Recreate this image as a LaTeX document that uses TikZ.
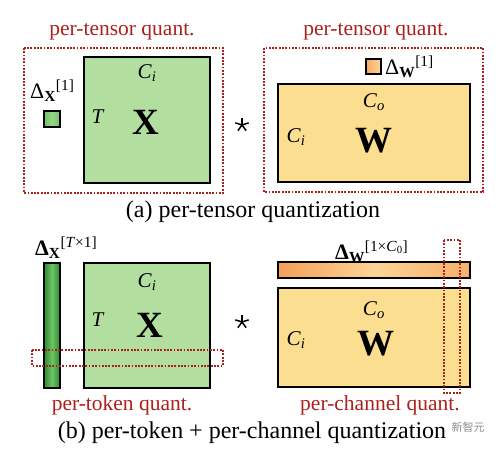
\documentclass[tikz,border=0pt]{standalone}
\usepackage{fontspec}
\setmainfont{Liberation Serif}
\newfontfamily\cjk{Noto Sans CJK SC}
\usetikzlibrary{calc}
\definecolor{xgreen}{RGB}{178,222,160}
\definecolor{dgreen}{RGB}{38,140,48}
\definecolor{lgreen}{RGB}{110,196,100}
\definecolor{wyellow}{RGB}{251,222,143}
\definecolor{dorange}{RGB}{244,160,88}
\definecolor{lorange}{RGB}{252,212,150}
\definecolor{qred}{RGB}{172,32,28}
\def\Cdim#1{\textit{C}\textsubscript{\textit{#1}}}
\def\starop(#1){\foreach \a in {90,18,162,234,306} \draw[line width=1.5pt] (#1) -- ++(\a:7pt);}
\tikzset{
  mat/.style={draw=black, line width=2.4pt, inner sep=0pt},
  qbox/.style={draw=qred, line width=1.8pt, dash pattern=on 1.8pt off 1.5pt},
  qlabel/.style={text=qred, font=\fontsize{21.5}{25}\selectfont},
  dimlbl/.style={font=\fontsize{21}{25}\selectfont},
  biglbl/.style={font=\fontsize{37}{40}\selectfont\bfseries},
  dlbl/.style={font=\fontsize{22}{26}\selectfont, inner sep=0pt, anchor=base west},
  caplbl/.style={font=\fontsize{24}{28}\selectfont},
}

\begin{document}
\begin{tikzpicture}[x=1pt,y=-1pt]
			%%%%% (a) per-tensor %%%%%
			\useasboundingbox (0,0) rectangle (502,450);
			
			\node[mat, fill=xgreen, minimum width=126pt, minimum height=126pt] (xa) at (147,120) {};
			\node[dimlbl] (xaci) at (147,73) {\Cdim{i}};
			\node[dimlbl] (xat) at (98,117) {\textit{T}};
			\node[biglbl] (xax) at (146,122) {X};
			
			\node[mat, line width=1.6pt, left color=lgreen, right color=lgreen, middle color=xgreen!60!lgreen, minimum size=16pt] (dxa) at (52,119) {};
			\node[dlbl] (dxalbl) at (30,98) {Δ\textsubscript{\textbf{X}}\textsuperscript{[1]}};
			
			\coordinate (stara) at (242,125);
			\starop(stara)
			
			\node[mat, fill=wyellow, minimum width=192pt, minimum height=98pt] (wa) at (374,133) {};
			\node[dimlbl] (waco) at (374,102) {\Cdim{o}};
			\node[dimlbl] (waci) at (296,137) {\Cdim{i}};
			\node[biglbl] (waw) at (374,141) {W};
			
			\node[mat, line width=1.6pt, left color=dorange!80!lorange, right color=lorange, minimum size=15pt] (dwa) at (373.5,66.5) {};
			\node[dlbl] (dwalbl) at (385,74) {Δ\textsubscript{\textbf{W}}\textsuperscript{[1]}};
			
			\draw[qbox] (24,48) rectangle (223,193);
			\draw[qbox] (264,48) rectangle (483,192);
			\node[qlabel] (qxa) at (122,32) {per-tensor quant.};
			\node[qlabel] (qwa) at (376,32) {per-tensor quant.};
			
			\node[caplbl] (capa) at (253,212) {(a) per-tensor quantization};
			
			%%%%% (b) per-token + per-channel %%%%%
			
			\node[mat, fill=xgreen, minimum width=126pt, minimum height=125pt] (xb) at (147,325.5) {};
			\node[dimlbl] (xbci) at (147,282) {\Cdim{i}};
			\node[dimlbl] (xbt) at (98,320) {\textit{T}};
			\node[biglbl] (xbx) at (150,325) {X};
			
			\node[mat, line width=2pt, left color=dgreen, right color=dgreen, middle color=lgreen, minimum width=16pt, minimum height=125pt] (dxb) at (52,325.5) {};
			\node[dlbl] (dxblbl) at (35,255) {\textbf{Δ}\textsubscript{\textbf{X}}\textsuperscript{[\textit{T}×1]}};
			
			\coordinate (starb) at (242,322);
			\starop(starb)
			
			\node[mat, fill=wyellow, minimum width=192pt, minimum height=99pt] (wb) at (374,337.5) {};
			\node[dimlbl] (wbco) at (374,310) {\Cdim{o}};
			\node[dimlbl] (wbci) at (296,340) {\Cdim{i}};
			\node[biglbl] (wbw) at (376,344) {W};
			
			\node[mat, line width=2pt, left color=dorange, right color=dorange!70!lorange, middle color=lorange, minimum width=192pt, minimum height=16pt] (dwb) at (374,270) {};
			\node[dlbl] (dwblbl) at (335,259) {\textbf{Δ}\textsubscript{\textbf{W}}\textsuperscript{[1×\textit{C}\textsubscript{0}]}};
			
			\draw[qbox] (32,350) rectangle (223,366);
			\draw[qbox] (444,240) rectangle (460,393);
			\node[qlabel] (qxb) at (122,405) {per-token quant.};
			\node[qlabel] (qwb) at (380,405) {per-channel quant.};
			
			\node[caplbl] (capb) at (252,433) {(b) per-token + per-channel quantization};
			\node[text=black!45, font=\cjk\fontsize{11}{13}\selectfont] (mark) at (468,427) {新智元};
			
			%%%%% END %%%%%
\end{tikzpicture}
\end{document}
